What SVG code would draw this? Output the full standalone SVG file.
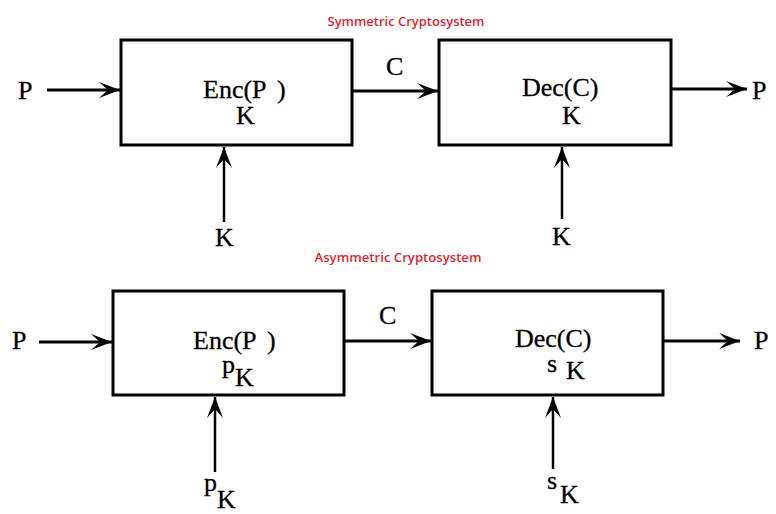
<svg xmlns="http://www.w3.org/2000/svg" width="776" height="514" viewBox="0 0 776 514">
<style>
.box{fill:#fff;stroke:#000;stroke-width:3}
.ln{stroke:#000;stroke-width:3;fill:none}
.vl{stroke:#000;stroke-width:2.5;fill:none}
.t{font-family:"Liberation Serif","Times New Roman",serif;font-size:26px;fill:#000;stroke:#000;stroke-width:0.3}
.title{font-family:"Open Sans","Liberation Sans",sans-serif;font-size:12.5px;font-weight:600;fill:#e3242b}
</style>
<defs>
<marker id="ah" markerUnits="userSpaceOnUse" markerWidth="24" markerHeight="20" viewBox="-22 -10 24 20" refX="0" refY="0" orient="auto">
<path d="M0,0 L-21,-8 L-12,0 L-21,8 Z" fill="#000"/>
</marker>
</defs>
<text class="title" x="406" y="26" text-anchor="middle" textLength="157" lengthAdjust="spacingAndGlyphs">Symmetric Cryptosystem</text>
<text class="title" x="398" y="262" text-anchor="middle" textLength="167" lengthAdjust="spacingAndGlyphs">Asymmetric Cryptosystem</text>
<g id="connectors">
<line class="ln" x1="47" y1="90" x2="120" y2="90" marker-end="url(#ah)"/>
<line class="ln" x1="352" y1="91" x2="438" y2="91" marker-end="url(#ah)"/>
<line class="ln" x1="671" y1="89" x2="747" y2="89" marker-end="url(#ah)"/>
<line class="vl" x1="224" y1="222" x2="224" y2="147" marker-end="url(#ah)"/>
<line class="vl" x1="562" y1="219" x2="562" y2="147" marker-end="url(#ah)"/>
<line class="ln" x1="39" y1="342" x2="112" y2="342" marker-end="url(#ah)"/>
<line class="ln" x1="344" y1="341" x2="431" y2="341" marker-end="url(#ah)"/>
<line class="ln" x1="663" y1="341" x2="740" y2="341" marker-end="url(#ah)"/>
<line class="vl" x1="215" y1="472" x2="215" y2="397" marker-end="url(#ah)"/>
<line class="vl" x1="553" y1="469" x2="553" y2="397" marker-end="url(#ah)"/>
</g>
<g id="labels">
<text class="t" x="18" y="99">P</text>
<text class="t" x="752" y="99">P</text>
<text class="t" x="386" y="75">C</text>
<text class="t" x="215" y="246">K</text>
<text class="t" x="552" y="245">K</text>
<text class="t" x="12" y="349">P</text>
<text class="t" x="754" y="349">P</text>
<text class="t" x="379" y="324">C</text>
<g id="pk-label"><text class="t" x="204" y="491">p</text><text class="t" x="217" y="508">K</text></g>
<g id="sk-label"><text class="t" x="547" y="489">s</text><text class="t" x="560" y="503">K</text></g>
</g>
<g id="enc-sym">
<rect class="box" x="121" y="40" width="231" height="105"/>
<text class="t" x="203" y="98">Enc(P<tspan x="277">)</tspan></text>
<text class="t" x="236" y="124">K</text>
</g>
<g id="dec-sym">
<rect class="box" x="439" y="40" width="232" height="105"/>
<text class="t" x="522" y="96">Dec(C)</text>
<text class="t" x="562" y="124">K</text>
</g>
<g id="enc-asym">
<rect class="box" x="113" y="291" width="231" height="104"/>
<text class="t" x="193" y="349">Enc(P<tspan x="267">)</tspan></text>
<text class="t" x="222" y="373">p</text>
<text class="t" x="235" y="386">K</text>
</g>
<g id="dec-asym">
<rect class="box" x="432" y="291" width="231" height="104"/>
<text class="t" x="515" y="347">Dec(C)</text>
<text class="t" x="547" y="372">s</text>
<text class="t" x="566" y="379">K</text>
</g>
</svg>
